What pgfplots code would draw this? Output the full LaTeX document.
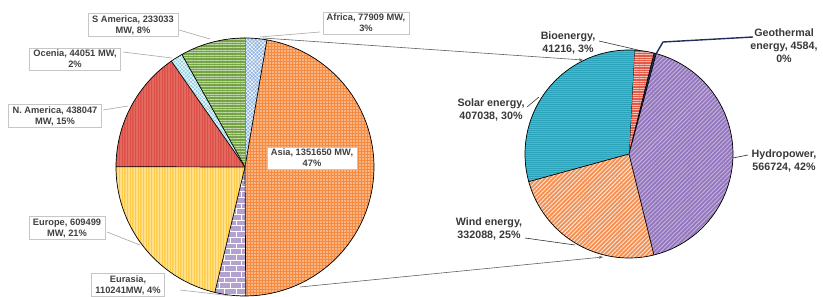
\documentclass[border=0pt]{standalone}
\usepackage{fontspec}
\setmainfont{Liberation Sans}
\usepackage{pgfplots}
\pgfplotsset{compat=1.18}
\usetikzlibrary{patterns,patterns.meta,arrows.meta}

% ---- data (MW) ----
\def\vAf{77909}\def\vAs{1351650}\def\vEu{110241}\def\vEp{609499}
\def\vNA{438047}\def\vOc{44051}\def\vSA{233033}
\def\vBio{41216}\def\vGeo{4584}\def\vHy{566724}\def\vWi{332088}\def\vSo{407038}

\edef\Lt{\fpeval{\vAf+\vAs+\vEu+\vEp+\vNA+\vOc+\vSA}}
\edef\La{90}
\edef\Lb{\fpeval{round(\La-360*\vAf/\Lt,3)}}
\edef\Lc{\fpeval{round(\Lb-360*\vAs/\Lt,3)}}
\edef\Ld{\fpeval{round(\Lc-360*\vEu/\Lt,3)}}
\edef\Le{\fpeval{round(\Ld-360*\vEp/\Lt,3)}}
\edef\Lf{\fpeval{round(\Le-360*\vNA/\Lt,3)}}
\edef\Lg{\fpeval{round(\Lf-360*\vOc/\Lt,3)}}
\edef\Lh{\fpeval{round(\Lg-360*\vSA/\Lt,3)}}

\edef\Rt{\fpeval{\vBio+\vGeo+\vHy+\vWi+\vSo}}
\edef\Ra{87}
\edef\Rb{\fpeval{round(\Ra-360*\vBio/\Rt,3)}}
\edef\Rc{\fpeval{round(\Rb-360*\vGeo/\Rt,3)}}
\edef\Rd{\fpeval{round(\Rc-360*\vHy/\Rt,3)}}
\edef\Re{\fpeval{round(\Rd-360*\vWi/\Rt,3)}}
\edef\Rf{\fpeval{round(\Re-360*\vSo/\Rt,3)}}

\definecolor{cAf}{HTML}{8DB3E2}
\definecolor{cAs}{HTML}{F68A3E}
\definecolor{cEu}{HTML}{B3A2D0}
\definecolor{cEp}{HTML}{FDCB45}
\definecolor{cNA}{HTML}{DC4F45}
\definecolor{cOc}{HTML}{8FD0E6}
\definecolor{cSA}{HTML}{74A444}
\definecolor{cBio}{HTML}{E35A48}
\definecolor{cGeo}{HTML}{1F2F5A}
\definecolor{cHy}{HTML}{9477BE}
\definecolor{cWi}{HTML}{F58F52}
\definecolor{cSo}{HTML}{2BA3BA}

\tikzset{
 lab/.style={draw=gray!45, fill=white, align=center,
   font=\bfseries\fontsize{9.3}{11}\selectfont, text=black!75,
   inner xsep=4pt, inner ysep=2pt},
 rlab/.style={align=center, font=\bfseries\fontsize{10.7}{13}\selectfont,
   text=black!78, inner sep=0pt},
 lead/.style={draw=gray!70, line width=0.6pt},
}

% slice: cx cy r from to fillcolor pattern patterncolor
\newcommand\slice[8]{%
 \addplot[fill=#6, draw=none, variable=\t, samples at={0,1,...,60}]
  ({#1+#3*min(\t,1)*cos((#4)+((#5)-(#4))*max(\t-1,0)/59)},
   {#2+#3*min(\t,1)*sin((#4)+((#5)-(#4))*max(\t-1,0)/59)});
 \addplot[pattern=#7, pattern color=#8, draw=black, line width=0.7pt, line join=round,
   variable=\t, samples at={0,1,...,60}]
  ({#1+#3*min(\t,1)*cos((#4)+((#5)-(#4))*max(\t-1,0)/59)},
   {#2+#3*min(\t,1)*sin((#4)+((#5)-(#4))*max(\t-1,0)/59)});}

\begin{document}
\begin{tikzpicture}
\begin{axis}[x=1pt, y=1pt, xmin=0, xmax=823, ymin=0, ymax=297,
  axis lines=none, clip=false]

% ---- left pie ----
\slice{245}{130}{129}{\La}{\Lb}{cAf}{{Hatch[angle=45,distance=2.6pt,line width=0.45pt]}}{white}
\slice{245}{130}{129}{\Lb}{\Lc}{cAs}{{Dots[distance=3pt,radius=0.8pt]}}{white!75!cAs}
\slice{245}{130}{129}{\Lc}{\Ld}{cEu}{bricks}{white}
\slice{245}{130}{129}{\Ld}{\Le}{cEp}{{Lines[angle=90,distance=1.6pt,line width=0.35pt]}}{white!40!cEp}
\slice{245}{130}{129}{\Le}{\Lf}{cNA}{{Lines[angle=90,distance=1.6pt,line width=0.3pt]}}{white!15!cNA}
\slice{245}{130}{129}{\Lf}{\Lg}{cOc}{{Hatch[angle=45,distance=2.6pt,line width=0.5pt]}}{white}
\slice{245}{130}{129}{\Lg}{\Lh}{cSA}{{Lines[angle=0,distance=2.6pt,line width=0.6pt]}}{white!55!cSA}

% ---- right pie ----
\slice{629}{143}{104}{\Ra}{\Rb}{cBio}{{Lines[angle=0,distance=2.4pt,line width=0.6pt]}}{white!60!cBio}
\slice{629}{143}{104}{\Rb}{\Rc}{cGeo}{{Lines[angle=0,distance=3pt,line width=0.1pt]}}{cGeo}
\slice{629}{143}{104}{\Rc}{\Rd}{cHy}{{Lines[angle=45,distance=3pt,line width=0.9pt]}}{white!45!cHy}
\slice{629}{143}{104}{\Rd}{\Re}{cWi}{{Lines[angle=45,distance=3pt,line width=0.9pt]}}{white!80!cWi}
\slice{629}{143}{104}{\Re}{\Rf}{cSo}{{Lines[angle=0,distance=2pt,line width=0.4pt]}}{white!20!cSo}

% ---- connectors ----
\draw[draw=gray!75!black, line width=0.6pt, -{Stealth[length=4pt,width=3pt]}]
  (axis cs:263,259) -- (axis cs:583,237);
\draw[draw=gray!75!black, line width=0.6pt, -{Stealth[length=4pt,width=3pt]}]
  (axis cs:300,10) -- (axis cs:603,40);

% ---- left leaders and labels ----
\draw[lead] (axis cs:179,267) -- (axis cs:210,258);
\draw[lead] (axis cs:123,245) -- (axis cs:172,239);
\draw[lead] (axis cs:103,187) -- (axis cs:128,191);
\draw[lead] (axis cs:107,65) -- (axis cs:140,52);
\draw[lead] (axis cs:180,7) -- (axis cs:232,1);
\draw[lead] (axis cs:320,265) -- (axis cs:260,260);

\node[lab] at (axis cs:133,272) {S America, 233033\\MW, 8\%};
\node[lab] at (axis cs:75,238) {Ocenia, 44051 MW,\\2\%};
\node[lab] at (axis cs:55,181) {N. America, 438047\\MW, 15\%};
\node[lab] at (axis cs:67,69) {Europe, 609499\\MW, 21\%};
\node[lab] at (axis cs:128,12) {Eurasia,\\110241MW, 4\%};
\node[lab] at (axis cs:312,139) {Asia, 1351650 MW,\\47\%};
\node[lab] at (axis cs:366,274) {Africa, 77909 MW,\\3\%};

% ---- right leaders and labels ----
\draw[draw=black!80, line width=0.6pt] (axis cs:599,256) -- (axis cs:638,247);
\draw[draw=cGeo, line width=1.4pt] (axis cs:753,260) -- (axis cs:663,255) -- (axis cs:656,243);
\draw[draw=black!80, line width=0.6pt] (axis cs:527,190) -- (axis cs:539,200);
\draw[draw=black!80, line width=0.6pt] (axis cs:525,59) -- (axis cs:575,52);
\draw[draw=black!80, line width=0.6pt] (axis cs:733,139) -- (axis cs:748,142);

\node[rlab] at (axis cs:568,254) {Bioenergy,\\41216, 3\%};
\node[rlab] at (axis cs:784,251) {Geothermal\\energy, 4584,\\0\%};
\node[rlab] at (axis cs:491,187) {Solar energy,\\407038, 30\%};
\node[rlab] at (axis cs:489,68) {Wind energy,\\332088, 25\%};
\node[rlab] at (axis cs:784,136) {Hydropower,\\566724, 42\%};

\end{axis}
\pgfresetboundingbox
\path (0,0) rectangle (823pt,297pt);
\end{tikzpicture}
\end{document}
